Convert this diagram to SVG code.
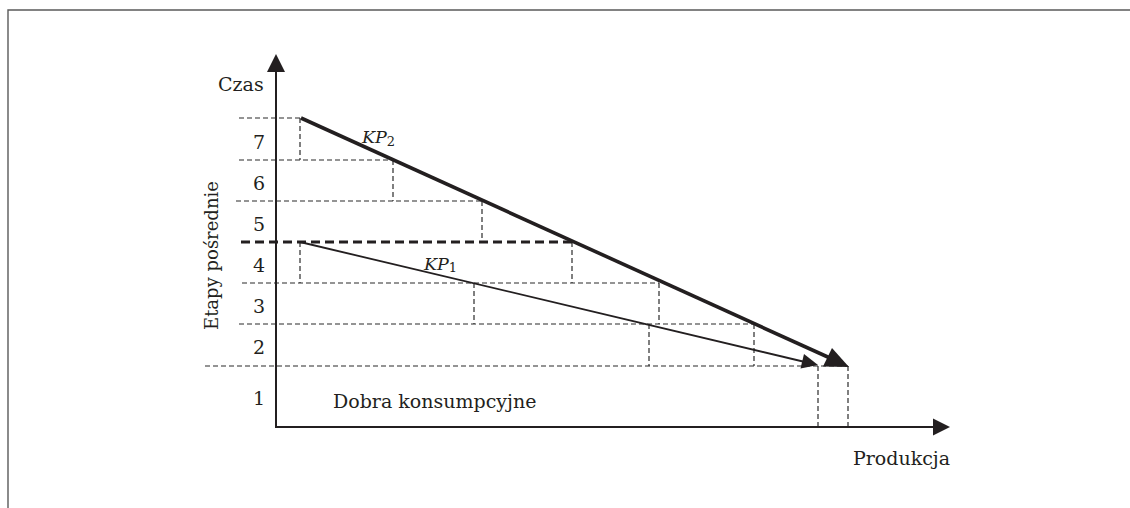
<svg xmlns="http://www.w3.org/2000/svg" width="1130" height="508" viewBox="0 0 1130 508">
<style>
.t{font-family:"DejaVu Serif","Liberation Serif",serif;font-size:19px;fill:#231f20}
.n{text-anchor:middle}
.r{font-size:18px}
.i{font-style:italic;font-size:17.5px}
.sub{font-size:13px;font-style:normal}
.d{stroke:#2b2b2b;stroke-width:1.2;stroke-dasharray:5 3;fill:none}
.dt{stroke:#231f20;stroke-width:2.8;stroke-dasharray:9 5;fill:none}
.ax{stroke:#231f20;stroke-width:2;fill:none}
.frame{stroke:#5a5a5a;stroke-width:1.4;fill:none}
</style>
<rect width="1130" height="508" fill="#fff"/>
<path class="frame" d="M8,508 V10 H1130"/>
<g id="grid">
<path class="d" d="M239,118H300 M239,160H393 M236,201H482 M242,283H659 M239,324H754 M205,366H848"/>
<path class="d" d="M300,118V160 M393,160V201 M482,201V242 M572,242V283 M659,283V324 M754,324V366 M300,242V283 M474,283V324 M649,324V366 M818,366V427 M848,366V427"/>
<path class="dt" d="M241,242H572"/>
</g>
<g id="axes">
<path class="ax" d="M276,70V427H935"/>
<polygon points="276,54 267,72 285,72" fill="#231f20"/>
<polygon points="950,427 933,418.5 933,435.5" fill="#231f20"/>
<text class="t" x="218" y="91">Czas</text>
<text class="t" x="853" y="465">Produkcja</text>
<text class="t r" x="218" y="330" transform="rotate(-90 218 330)">Etapy pośrednie</text>
</g>
<g id="labels">
<text class="t n" x="259" y="149">7</text>
<text class="t n" x="259" y="190">6</text>
<text class="t n" x="259" y="231">5</text>
<text class="t n" x="259" y="272">4</text>
<text class="t n" x="259" y="313">3</text>
<text class="t n" x="259" y="354">2</text>
<text class="t n" x="259" y="405">1</text>
<text class="t" x="333" y="408">Dobra konsumpcyjne</text>
</g>
<g id="connectors">
<g id="KP2">
<line x1="301" y1="118" x2="830" y2="358" stroke="#231f20" stroke-width="3.6"/>
<polygon points="849,367 823,366.5 832,348" fill="#231f20"/>
<text class="t i" x="362" y="143">KP<tspan class="sub" dy="3">2</tspan></text>
</g>
<g id="KP1">
<line x1="300" y1="242" x2="805" y2="362" stroke="#231f20" stroke-width="1.8"/>
<polygon points="818,365 800.5,368.5 804,354" fill="#231f20"/>
<text class="t i" x="424" y="270">KP<tspan class="sub" dy="2">1</tspan></text>
</g>
</g>
</svg>
